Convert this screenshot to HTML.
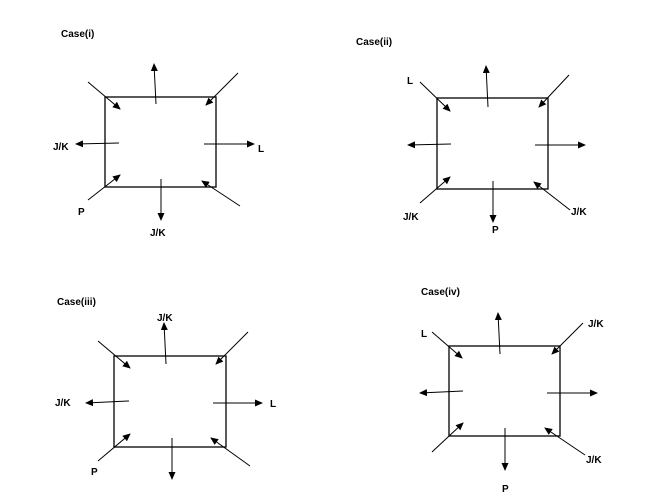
<!DOCTYPE html>
<html><head><style>body{margin:0;background:#fff}svg{display:block}text{font-family:"Liberation Sans",sans-serif;font-weight:bold;font-size:10px;fill:#000}</style></head><body>
<svg width="651" height="504" viewBox="0 0 651 504">
<defs><marker id="a" markerWidth="8" markerHeight="8" refX="7" refY="4" orient="auto" markerUnits="userSpaceOnUse"><path d="M0,0.5 L8,4 L0,7.5 z" fill="#000"/></marker></defs>
<g stroke="#000" stroke-width="1" fill="none">
<rect x="105" y="97" width="111" height="90" stroke-width="1.3"/>
<rect x="437" y="98" width="111" height="91" stroke-width="1.3"/>
<rect x="114" y="356" width="112" height="91" stroke-width="1.3"/>
<rect x="449" y="346" width="111" height="90" stroke-width="1.3"/>
<g marker-end="url(#a)">
<line x1="88" y1="82" x2="120" y2="109"/><line x1="156" y1="104" x2="154" y2="64"/><line x1="238" y1="73" x2="206" y2="105"/><line x1="119" y1="143" x2="76" y2="144"/><line x1="204" y1="144" x2="254" y2="144"/><line x1="88" y1="200" x2="120" y2="175"/><line x1="161" y1="179" x2="161" y2="220"/><line x1="240" y1="206" x2="202" y2="181"/>
<line x1="420" y1="82" x2="450" y2="111"/><line x1="488" y1="107" x2="486" y2="66"/><line x1="569" y1="75" x2="539" y2="107"/><line x1="451" y1="144" x2="408" y2="145"/><line x1="535" y1="145" x2="585" y2="145"/><line x1="420" y1="203" x2="450" y2="177"/><line x1="493" y1="181" x2="493" y2="222"/><line x1="570" y1="210" x2="534" y2="182"/>
<line x1="98" y1="341" x2="130" y2="368"/><line x1="166" y1="364" x2="164" y2="323"/><line x1="248" y1="332" x2="216" y2="364"/><line x1="129" y1="401" x2="86" y2="403"/><line x1="213" y1="403" x2="262" y2="403"/><line x1="98" y1="461" x2="130" y2="434"/><line x1="172" y1="438" x2="172" y2="479"/><line x1="250" y1="466" x2="211" y2="438"/>
<line x1="432" y1="332" x2="462" y2="358"/><line x1="500" y1="354" x2="498" y2="313"/><line x1="583" y1="323" x2="552" y2="354"/><line x1="463" y1="391" x2="420" y2="393"/><line x1="547" y1="393" x2="597" y2="393"/><line x1="432" y1="452" x2="463" y2="423"/><line x1="505" y1="428" x2="505" y2="470"/><line x1="585" y1="455" x2="545" y2="428"/>
</g></g>
<text x="61" y="37">Case(i)</text><text x="53" y="150">J/K</text><text x="258" y="152">L</text><text x="78" y="215">P</text><text x="150" y="236">J/K</text>
<text x="356" y="45">Case(ii)</text><text x="407" y="84">L</text><text x="403" y="220">J/K</text><text x="492" y="233">P</text><text x="571" y="215">J/K</text>
<text x="57" y="305">Case(iii)</text><text x="157" y="321">J/K</text><text x="55" y="406">J/K</text><text x="270" y="407">L</text><text x="91" y="475">P</text>
<text x="421" y="295">Case(iv)</text><text x="421" y="337">L</text><text x="588" y="327">J/K</text><text x="586" y="463">J/K</text><text x="502" y="492">P</text>
</svg></body></html>
